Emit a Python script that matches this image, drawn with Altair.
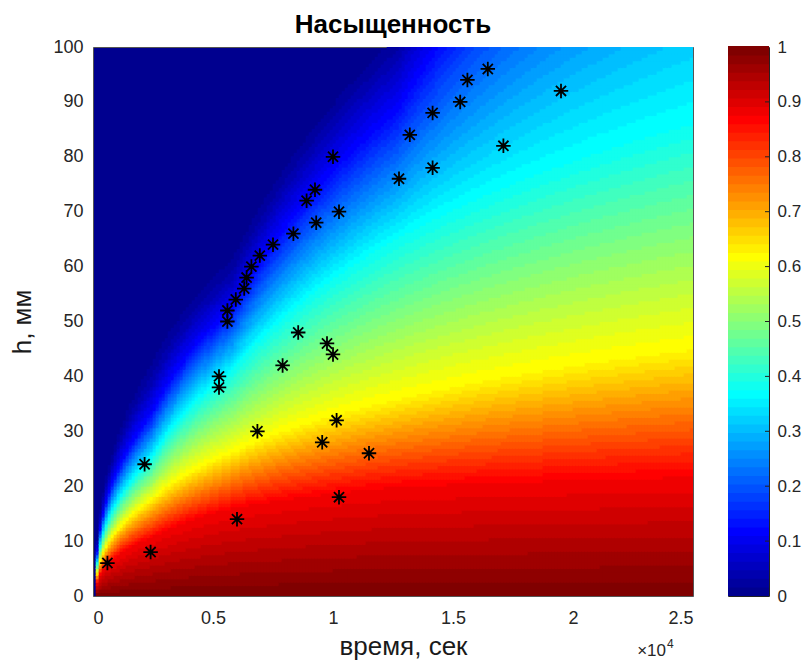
import numpy as np
import pandas as pd
import altair as alt

# ---- measured points (time s, height mm) ----
pt_t = [600, 2400, 6000, 10250, 2150, 11500, 9550, 6850, 10150, 5250, 5250,
        7900, 10000, 9750, 8550, 5600, 5600, 5950, 6300, 6400, 6600, 6950,
        7500, 8350, 9300, 10250, 8900, 9250, 12750, 14150, 10000, 17100,
        13200, 14150, 15300, 19500, 15600, 16450]
pt_h = [6, 8, 14, 18, 24, 26, 28, 30, 32, 38, 40,
        42, 44, 46, 48, 50, 52, 54, 56, 58, 60, 62,
        64, 66, 68, 70, 72, 74, 76, 78, 80, 82,
        84, 88, 90, 92, 94, 96]

# ---- saturation field: heights (mm) of saturation levels read at four times ----
tab_t = [2450, 5800, 12667, 25000]
tab_S = [1.0, 0.875, 0.625, 0.375, 0.125, 0.04, 0.0]
h_S100 = [0, 0, 0, 0]
h_S875 = [10.7, 16.0, 19.9, 21.7]
h_S625 = [17.5, 26.0, 35.7, 44.8]
h_S375 = [25.0, 41.0, 65.0, 86.0]
h_S125 = [33.0, 52.0, 88.0, 150.0]
h_S004 = [39.0, 58.0, 98.0, 170.0]
h_S000 = [44.0, 63.0, 104.0, 185.0]
tab_h = [h_S100, h_S875, h_S625, h_S375, h_S125, h_S004, h_S000]

xticks = [0, 5000, 10000, 15000, 20000, 25000]
yticks = list(range(0, 101, 10))
cticks = [round(0.1 * i, 1) for i in range(11)]
exp_text = ["×10"]
exp_power = ["4"]


def jet(n=64):
    m = int(np.ceil(n / 4))
    u = np.concatenate([np.arange(1, m + 1) / m, np.ones(m - 1), np.arange(m, 0, -1) / m])
    g = int(np.ceil(m / 2)) - (1 if n % 4 == 1 else 0) + np.arange(1, len(u) + 1)
    r = g + m
    b = g - m
    J = np.zeros((n, 3))
    for idx, val in zip(r, u):
        if 1 <= idx <= n:
            J[idx - 1, 0] = val
    for idx, val in zip(g, u):
        if 1 <= idx <= n:
            J[idx - 1, 1] = val
    for idx, val in zip(b, u):
        if 1 <= idx <= n:
            J[idx - 1, 2] = val
    return ["#%02x%02x%02x" % tuple(int(round(c * 255)) for c in row) for row in J]


JET = jet(64)

dt, dh = 125.0, 0.625
t_c = np.arange(dt / 2, 25000, dt)
h_c = np.arange(dh / 2, 100, dh)
log_t = np.log(tab_t)
recs = []
for t in t_c:
    if t <= tab_t[0]:
        f = (max(t - 120.0, 0.0) / (tab_t[0] - 120.0)) ** 0.4
        hl = [row[0] * f for row in tab_h]
    else:
        hl = [float(np.interp(np.log(t), log_t, row)) for row in tab_h]
    if hl[-1] <= 0:
        continue
    S = np.interp(h_c, hl, tab_S, right=0.0)
    for h, s in zip(h_c, S):
        if s >= 1.0 / 64:
            recs.append((float(t), round(float(h), 4), round(float(s), 4)))
field = pd.DataFrame(recs, columns=["t", "h", "S"])

pts = pd.DataFrame({"t": pt_t, "h": pt_h})
bar = pd.DataFrame({"lo": [k / 64 for k in range(64)]})
ctick_df = pd.DataFrame({"v": cticks[1:-1]})

FONT = "Liberation Sans"
TXT = "#262626"
color_scale = alt.Scale(type="quantize", domain=[0, 1], range=JET, nice=False)

xs = alt.Scale(domain=[0, 25000], nice=False, zero=False)
ys = alt.Scale(domain=[0, 100], nice=False, zero=False)

heat = alt.Chart(field).transform_calculate(
    t0="datum.t - 75", t1="datum.t + 75", h0="datum.h - 0.4", h1="datum.h + 0.4"
).mark_rect(clip=True, strokeWidth=0).encode(
    x=alt.X("t0:Q", scale=xs,
            axis=alt.Axis(values=xticks, labelExpr="'' + datum.value/10000",
                          title="время, сек", titleX=310, titleY=58.5,
                          titleBaseline="alphabetic", titleAlign="center",
                          labelPadding=13, tickSize=0, domain=False, grid=False)),
    x2="t1:Q",
    y=alt.Y("h0:Q", scale=ys,
            axis=alt.Axis(values=yticks, title="h, мм", titleX=-71, titleY=274.5,
                          titleAngle=270, titleAlign="center", titleBaseline="middle",
                          labelPadding=10, tickSize=0, domain=False, grid=False)),
    y2="h1:Q",
    color=alt.Color("S:Q", scale=color_scale, legend=None),
)

asterisk = "M-1,0L1,0M0,-1L0,1M-0.7,-0.7L0.7,0.7M-0.7,0.7L0.7,-0.7"
points = alt.Chart(pts).mark_point(
    shape=asterisk, size=210, filled=False, stroke="black", strokeWidth=1.8, opacity=1
).encode(x=alt.X("t:Q", scale=xs), y=alt.Y("h:Q", scale=ys))

exp_base = alt.Chart(pd.DataFrame({"lbl": exp_text})).mark_text(
    font=FONT, fontSize=17, color=TXT, align="right", baseline="alphabetic"
).encode(text="lbl:N", x=alt.value(573), y=alt.value(609))
exp_pow = alt.Chart(pd.DataFrame({"lbl": exp_power})).mark_text(
    font=FONT, fontSize=12, color=TXT, align="left", baseline="alphabetic"
).encode(text="lbl:N", x=alt.value(574), y=alt.value(601))

main = alt.layer(heat, points, exp_base, exp_pow).properties(
    width=600, height=549,
    title=alt.TitleParams("Насыщенность", font=FONT, fontSize=26, fontWeight="bold",
                          color="black", anchor="middle", offset=0),
    view=alt.ViewBackground(fill=JET[0], stroke="#555555", strokeWidth=1),
)

cbs = alt.Scale(domain=[0, 1], nice=False, zero=False)
cbar_rect = alt.Chart(bar).transform_calculate(
    hi="datum.lo + 1/64 + 0.002", mid="datum.lo + 0.5/64"
).mark_rect(strokeWidth=0).encode(
    y=alt.Y("lo:Q", scale=cbs,
            axis=alt.Axis(orient="right", values=cticks, title=None,
                          labelExpr="'' + round(datum.value*10)/10",
                          labelPadding=8, labelFontSize=17,
                          tickSize=0, domain=False, grid=False)),
    y2="hi:Q",
    x=alt.value(0), x2=alt.value(41),
    color=alt.Color("mid:Q", scale=color_scale, legend=None),
)
cbar_ticks = alt.Chart(ctick_df).mark_rule(color="#222222", strokeWidth=1).encode(
    y=alt.Y("v:Q", scale=cbs), x=alt.value(37), x2=alt.value(41)
)
cbar = alt.layer(cbar_rect, cbar_ticks).properties(
    width=41, height=549,
    view=alt.ViewBackground(stroke="#222222", strokeWidth=1),
)

chart = alt.hconcat(main, cbar, spacing=35, bounds="flush").properties(
    padding={"left": 0, "top": 3, "right": 0, "bottom": 0}
).configure_axis(
    labelFont=FONT, labelFontSize=18, labelColor=TXT,
    titleFont=FONT, titleFontSize=26, titleFontWeight="normal", titleColor="#1a1a1a",
).configure_view(strokeWidth=1)

chart.save("out.html", embed_options={"renderer": "svg", "actions": False})
